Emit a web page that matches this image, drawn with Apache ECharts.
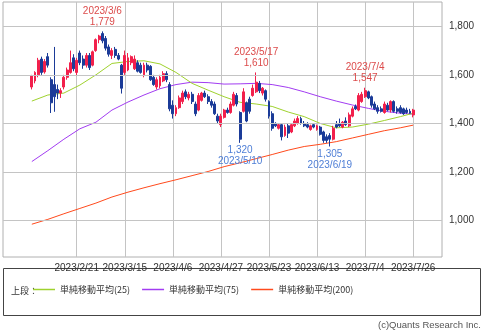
<!DOCTYPE html>
<html><head><meta charset="utf-8">
<script src="https://cdn.jsdelivr.net/npm/echarts@6/dist/echarts.min.js"></script>
<style>html,body{margin:0;padding:0;background:#fff}#c{width:484px;height:330px}</style>
</head><body><div id="c"></div>
<script>
// ---- data ----
const dates = [
'2023/2/1','2023/2/2','2023/2/3','2023/2/6','2023/2/7','2023/2/8','2023/2/9','2023/2/10','2023/2/13','2023/2/14',
'2023/2/15','2023/2/16','2023/2/17','2023/2/20','2023/2/21','2023/2/22','2023/2/24','2023/2/27','2023/2/28',
'2023/3/1','2023/3/2','2023/3/3','2023/3/6','2023/3/7','2023/3/8','2023/3/9','2023/3/10','2023/3/13','2023/3/14',
'2023/3/15','2023/3/16','2023/3/17','2023/3/20','2023/3/22','2023/3/23','2023/3/24','2023/3/27','2023/3/28','2023/3/29',
'2023/3/30','2023/3/31',
'2023/4/3','2023/4/4','2023/4/5','2023/4/6','2023/4/7','2023/4/10','2023/4/11','2023/4/12','2023/4/13','2023/4/14',
'2023/4/17','2023/4/18','2023/4/19','2023/4/20','2023/4/21','2023/4/24','2023/4/25','2023/4/26','2023/4/27','2023/4/28',
'2023/5/1','2023/5/2','2023/5/8','2023/5/9','2023/5/10','2023/5/11','2023/5/12','2023/5/15','2023/5/16','2023/5/17',
'2023/5/18','2023/5/19','2023/5/22','2023/5/23','2023/5/24','2023/5/25','2023/5/26','2023/5/29','2023/5/30','2023/5/31',
'2023/6/1','2023/6/2','2023/6/5','2023/6/6','2023/6/7','2023/6/8','2023/6/9','2023/6/12','2023/6/13','2023/6/14',
'2023/6/15','2023/6/16','2023/6/19','2023/6/20','2023/6/21','2023/6/22','2023/6/23','2023/6/26','2023/6/27','2023/6/28',
'2023/6/29','2023/6/30',
'2023/7/3','2023/7/4','2023/7/5','2023/7/6','2023/7/7','2023/7/10','2023/7/11','2023/7/12','2023/7/13','2023/7/14',
'2023/7/18','2023/7/19','2023/7/20','2023/7/21','2023/7/24','2023/7/25','2023/7/26'
];
const opens = [
1550,1575,1600,1665,1612,1675,1580,1560,1540,1525,1550,1590,1610,1670,1610,1690,1665,1640,1680,
1640,1700,1745,1770,1750,1715,1680,1705,1680,1640,1610,1620,1650,1625,1650,1640,1600,1640,1635,1590,1550,1555,
1575,1605,1560,1475,1440,1465,1490,1530,1505,1520,1480,1455,1495,1525,1510,1490,1480,1430,1395,1425,
1455,1445,1475,1515,1445,1450,1485,1500,1515,1530,1565,1525,1535,1490,1440,1400,1380,1395,1350,1390,
1365,1390,1400,1420,1400,1395,1375,1395,1375,1385,1365,1345,1350,1335,1395,1400,1385,1410,1390,1430,1470,1455,
1490,1510,1530,1510,1480,1465,1460,1445,1475,1455,1490,1460,1465,1460,1455,1450,1435
];
const highs = [
1600,1615,1670,1675,1665,1690,1590,1715,1560,1545,1600,1630,1700,1685,1670,1700,1680,1690,1690,
1700,1750,1765,1779,1760,1725,1710,1715,1690,1645,1700,1690,1680,1680,1660,1650,1650,1650,1640,1600,1590,1600,
1615,1615,1570,1495,1475,1515,1535,1540,1530,1530,1490,1525,1530,1535,1520,1500,1490,1440,1440,1460,
1465,1490,1530,1525,1450,1545,1490,1510,1560,1610,1575,1550,1540,1495,1450,1405,1400,1400,1395,1400,
1400,1420,1430,1428,1410,1405,1395,1400,1395,1390,1370,1355,1360,1390,1410,1420,1410,1425,1445,1470,1478,1525,
1530,1547,1535,1515,1490,1475,1470,1490,1485,1495,1495,1470,1475,1465,1465,1460,1460
];
const lows = [
1540,1565,1590,1600,1605,1630,1443,1448,1500,1505,1540,1580,1605,1615,1595,1640,1625,1630,1620,
1635,1695,1730,1730,1700,1675,1665,1670,1660,1523,1600,1615,1640,1620,1610,1605,1590,1610,1575,1555,1540,1545,
1570,1570,1450,1420,1430,1460,1480,1500,1495,1480,1430,1450,1490,1505,1480,1465,1435,1400,1385,1420,
1440,1440,1470,1470,1320,1445,1405,1440,1510,1525,1525,1515,1490,1420,1370,1385,1375,1330,1345,1340,
1360,1385,1395,1395,1385,1380,1370,1380,1370,1350,1320,1320,1305,1330,1380,1385,1380,1390,1385,1425,1455,1450,
1485,1505,1500,1465,1455,1440,1445,1440,1450,1445,1445,1440,1440,1435,1440,1440,1425
];
const closes = [
1595,1610,1660,1610,1655,1640,1485,1510,1525,1535,1590,1620,1650,1625,1660,1650,1640,1680,1630,
1695,1745,1760,1740,1710,1685,1700,1680,1665,1545,1680,1670,1675,1665,1615,1610,1640,1620,1580,1560,1580,1590,
1605,1580,1460,1440,1465,1505,1525,1510,1520,1490,1440,1515,1525,1510,1490,1475,1440,1410,1430,1455,
1445,1480,1520,1480,1335,1530,1410,1450,1545,1570,1535,1545,1500,1430,1380,1390,1395,1345,1385,1360,
1395,1410,1420,1400,1390,1385,1390,1385,1390,1355,1330,1330,1335,1380,1385,1390,1405,1395,1435,1460,1460,1515,
1520,1535,1505,1475,1460,1450,1450,1480,1455,1490,1450,1450,1445,1440,1445,1442,1455
];
// moving averages read every 5 trading days (index into dates)
const maIdx  = [0,5,10,15,20,25,30,35,40,45,50,55,60,65,70,75,80,85,90,95,100,105,110,115,119];
const ma25   = [1492,1517,1525,1558,1600,1647,1655,1658,1645,1610,1565,1537,1510,1487,1480,1470,1447,1428,1400,1382,1385,1397,1412,1428,1442];
const ma75   = [1243,1288,1335,1378,1405,1455,1488,1517,1543,1560,1570,1568,1562,1563,1565,1560,1548,1530,1510,1492,1476,1462,1450,1442,1438];
const ma200  = [985,1005,1028,1050,1072,1097,1117,1135,1152,1168,1185,1202,1222,1238,1255,1272,1290,1305,1314,1325,1340,1355,1370,1382,1393];
const yTicks = [1000,1200,1400,1600,1800];
const xTickLabels = ['2023/2/21','2023/3/15','2023/4/6','2023/4/27','2023/5/23','2023/6/13','2023/7/4','2023/7/26'];
const highNotes = [['2023/3/6',1779],['2023/5/17',1610],['2023/7/4',1547]];
const lowNotes  = [['2023/5/10',1320],['2023/6/19',1305]];
const seriesNames = ['単純移動平均(25)','単純移動平均(75)','単純移動平均(200)'];

// ---- build ----
const PAD = 9;
const cats = [];
for (let k = 0; k < PAD; k++) cats.push('pre' + k);
dates.forEach(d => cats.push(d));
for (let k = 0; k < PAD; k++) cats.push('post' + k);

const candle = [];
for (let k = 0; k < PAD; k++) candle.push(['-','-','-','-']);
dates.forEach((d, i) => candle.push([opens[i], closes[i], lows[i], highs[i]]));
for (let k = 0; k < PAD; k++) candle.push(['-','-','-','-']);

const maData = arr => arr.map((v, k) => [PAD + maIdx[k], v]);
const fmt = v => v.toLocaleString('en-US');
const FONT = "'Liberation Sans','Noto Sans CJK JP',sans-serif";
const CJK = "'Noto Sans CJK JP',sans-serif";
const RED = '#dc4b4b', BLUE = '#4f7fd6';
const UP = '#f2204c', DOWN = '#1b3b98';

const chart = echarts.init(document.getElementById('c'), null, {renderer: 'canvas'});
chart.setOption({
  animation: false,
  backgroundColor: '#fff',
  textStyle: {fontFamily: FONT},
  grid: {left: 3, right: 42, top: 2, bottom: 73, show: true, borderColor: '#b0b0b0', borderWidth: 1, backgroundColor: 'transparent'},
  xAxis: {
    type: 'category', data: cats, boundaryGap: false,
    axisLine: {show: false}, axisTick: {show: false},
    axisLabel: {interval: (idx, val) => xTickLabels.includes(val), fontSize: 10, color: '#333', margin: 6, fontFamily: FONT},
    splitLine: {show: true, interval: (idx, val) => xTickLabels.includes(val), lineStyle: {color: '#c4c4c4', width: 1}}
  },
  yAxis: {
    type: 'value', position: 'right', min: 850, max: 1900, interval: 50, scale: false,
    axisLine: {show: false}, axisTick: {show: false}, splitLine: {show: false},
    axisLabel: {formatter: v => yTicks.includes(v) ? fmt(v) : '', fontSize: 10, color: '#333', margin: 7, fontFamily: FONT}
  },
  legend: {
    data: seriesNames, left: 33, top: 285, padding: 0, itemGap: 12, itemWidth: 22, itemHeight: 1.5,
    icon: 'rect', selectedMode: false,
    textStyle: {fontSize: 9, color: '#333', fontFamily: CJK}
  },
  graphic: [
    {type: 'rect', shape: {x: 3.5, y: 268.5, width: 477, height: 47}, style: {fill: 'none', stroke: '#444', lineWidth: 1}, silent: true},
    {type: 'text', x: 11, y: 291, style: {text: '上段：', fontSize: 9, fill: '#333', fontFamily: CJK, verticalAlign: 'middle'}},
    {type: 'text', x: 481, y: 325, style: {text: '(c)Quants Research Inc.', fontSize: 9.5, fill: '#555', fontFamily: FONT, align: 'right', verticalAlign: 'middle'}}
  ],
  series: [
    {
      type: 'line', name: 'grid', data: [], z: 1, silent: true,
      markLine: {silent: true, symbol: 'none', label: {show: false}, animation: false,
        lineStyle: {color: '#c4c4c4', width: 1, type: 'solid'},
        data: yTicks.map(v => ({yAxis: v}))}
    },
    {
      type: 'line', name: seriesNames[2], data: maData(ma200), showSymbol: false, symbol: 'none', z: 3,
      lineStyle: {color: '#ff4a1c', width: 1}, itemStyle: {color: '#ff4a1c'}
    },
    {
      type: 'line', name: seriesNames[1], data: maData(ma75), showSymbol: false, symbol: 'none', z: 3,
      lineStyle: {color: '#a23cf2', width: 1}, itemStyle: {color: '#a23cf2'}
    },
    {
      type: 'line', name: seriesNames[0], data: maData(ma25), showSymbol: false, symbol: 'none', z: 3,
      lineStyle: {color: '#9fd22e', width: 1}, itemStyle: {color: '#9fd22e'}
    },
    {
      type: 'candlestick', name: 'price', data: candle, barWidth: 2.4, z: 4,
      itemStyle: {color: UP, color0: DOWN, borderColor: UP, borderColor0: DOWN, borderWidth: 1},
      markPoint: {
        symbol: 'circle', symbolSize: 0, silent: true, animation: false,
        data: highNotes.map(([d, v]) => ({coord: [d, v], label: {show: true, position: 'top', distance: 4,
            formatter: d + '\n' + fmt(v), color: RED, fontSize: 10, lineHeight: 11, fontFamily: FONT}}))
          .concat(lowNotes.map(([d, v]) => ({coord: [d, v], label: {show: true, position: 'bottom', distance: 2,
            formatter: fmt(v) + '\n' + d, color: BLUE, fontSize: 10, lineHeight: 11, fontFamily: FONT}})))
      }
    }
  ]
});
</script></body></html>
